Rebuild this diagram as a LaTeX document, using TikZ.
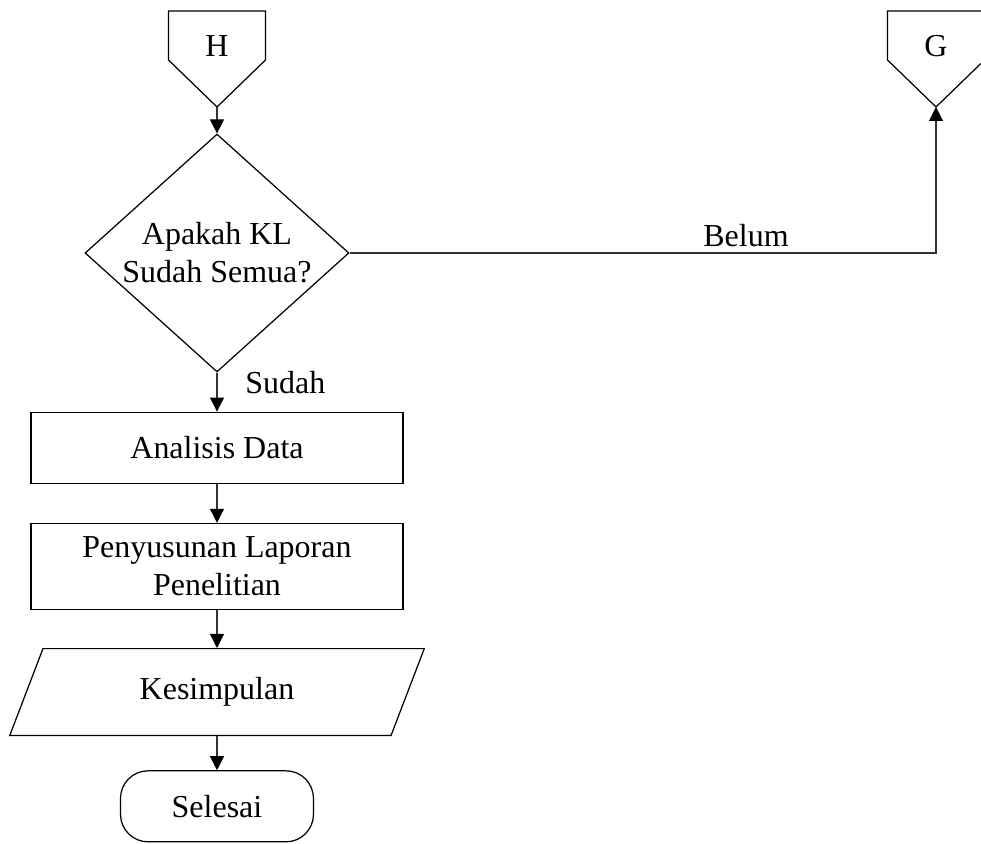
\documentclass[tikz,border=0pt]{standalone}
\usepackage{fontspec}
\setmainfont{Liberation Serif}
\usetikzlibrary{arrows.meta, shapes.geometric, positioning}
% off-page connector drawn round a text node, #2 names its tip
\newcommand{\offpagebox}[2]{%
  \draw[outline] ([shift={(-48.5,-35)}]#1.center) -- ([shift={(48.5,-35)}]#1.center)
    -- ([shift={(48.5,14)}]#1.center) -- ([shift={(0,61)}]#1.center) coordinate (#2)
    -- ([shift={(-48.5,14)}]#1.center) -- cycle;}

\begin{document}
\begin{tikzpicture}[x=0.02cm, y=-0.02cm, font=\fontsize{18.2}{21.6}\selectfont,
    outline/.style={draw, line width=0.7pt},
    process/.style={outline, rectangle, minimum width=7.44cm, inner sep=0pt, align=center},
    decision/.style={outline, diamond, aspect=1.2, minimum width=5.28cm, minimum height=4.76cm, inner sep=0pt, align=center},
    io/.style={outline, trapezium, trapezium left angle=63, trapezium right angle=117, trapezium stretches=true, minimum width=8.3cm, minimum height=1.74cm, inner sep=0pt},
    terminal/.style={outline, rectangle, rounded corners=0.55cm, minimum width=3.86cm, minimum height=1.42cm, inner sep=0pt},
    line/.style={draw=black!80, line width=0.6pt, -{Triangle[width=0.28cm, length=0.28cm, color=black]}}]

    \useasboundingbox (0,0) rectangle (981,844);

    \node (H) at (217,46) {H};
    \node (G) at (936,46) {G};
    \offpagebox{H}{Htip}
    \offpagebox{G}{Gtip}

    \node[decision] (Q) at (217,253) {Apakah KL\\Sudah Semua?};
    \node[process, minimum height=1.42cm, below=0.78cm of Q] (A) {Analisis Data};
    \node[process, minimum height=1.72cm, below=0.78cm of A] (P) {Penyusunan Laporan\\Penelitian};
    \node[io, below=0.76cm of P] (K) {Kesimpulan};
    \node[terminal, below=0.68cm of K] (S) {Selesai};

    \path[line] (Htip) -- (Q.north);
    \path[line] (Q.south) -- node[pos=0.25, right=0.44cm] (sudah) {Sudah} (A.north);
    \path[line] (A.south) -- (P.north);
    \path[line] (P.south) -- (K.north);
    \path[line] (K.south) -- (S.north);
    \path[line] (Q.east) -| node[pos=0.338, above] (belum) {Belum} (Gtip);

\end{tikzpicture}
\end{document}
